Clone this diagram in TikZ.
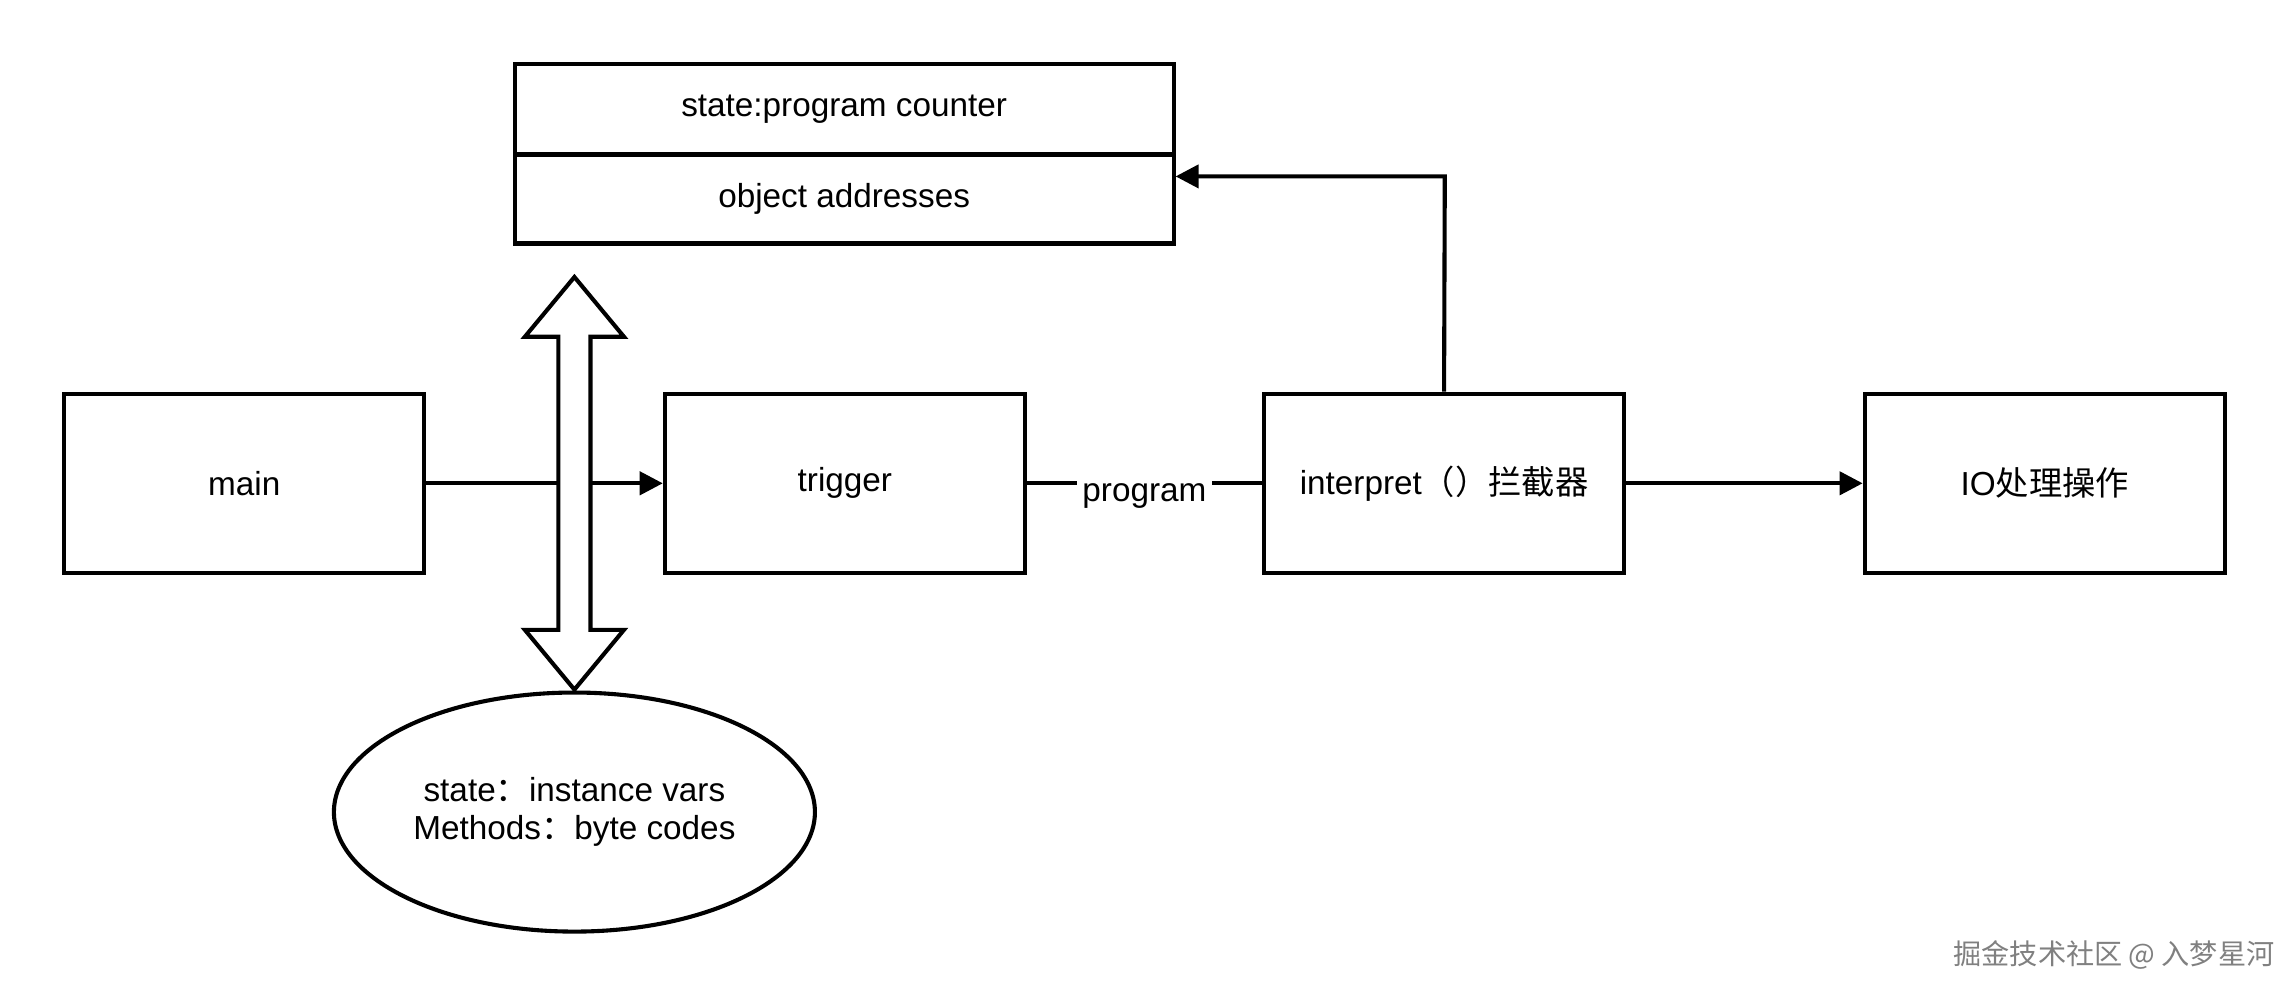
\documentclass[tikz,border=0pt]{standalone}
\usepackage{fontspec}
\setmainfont{Liberation Sans}
\newfontfamily\cjk{Noto Sans CJK SC}
\usetikzlibrary{arrows.meta,shapes.geometric}
\begin{document}
\begin{tikzpicture}[x=0.02cm,y=-0.02cm,
  every node/.style={font=\fontsize{13}{15}\selectfont},
  box/.style={draw,line width=1.6pt,minimum width=4.94cm,minimum height=2.46cm,inner sep=0pt},
  conn/.style={line width=1.6pt,-{Triangle[length=9pt,width=9pt]}}]
\useasboundingbox (0,0) rectangle (1568,683);
\node[draw,line width=1.6pt,minimum width=9.04cm,minimum height=1.24cm,inner sep=0pt] (pc) at (579,75) {state:program counter};
\node[draw,line width=1.6pt,minimum width=9.04cm,minimum height=1.22cm,inner sep=0pt] (oa) at (579,136.5) {object addresses};
\node[box] (main) at (167.5,331.5) {main};
\node[box] (trig) at (579.5,331.5) {trigger};
\node[box] (interp) at (990.5,331.5) {interpret{\cjk（）拦截器}};
\node[box] (io) at (1402.5,331.5) {IO{\cjk 处理操作}};
\node[draw,line width=1.6pt,ellipse,minimum width=6.6cm,minimum height=3.28cm,align=center,inner sep=0pt] (obj) at (394,557) {state{\cjk ：}instance vars\\Methods{\cjk ：}byte codes};
\draw[conn] (main) -- (trig);
\draw[line width=1.6pt] (trig) -- node[fill=white,pos=0.5,yshift=-0.18cm,inner sep=2pt] (lbl) {program} (interp);
\coordinate (corner) at (991,121);
\draw[conn] (interp.north) -- (corner) -- (oa.east |- corner);
\draw[conn] (interp) -- (io);
\draw[line width=1.6pt,fill=white] (394,190) -- (428,231) -- (405,231) -- (405,432) -- (428,432) -- (394,473) -- (360,432) -- (383,432) -- (383,231) -- (360,231) -- cycle;
\node[text=gray,font=\cjk\fontsize{11}{13}\selectfont] (wm) at (1450,655) {掘金技术社区 @ 入梦星河};
\end{tikzpicture}
\end{document}
